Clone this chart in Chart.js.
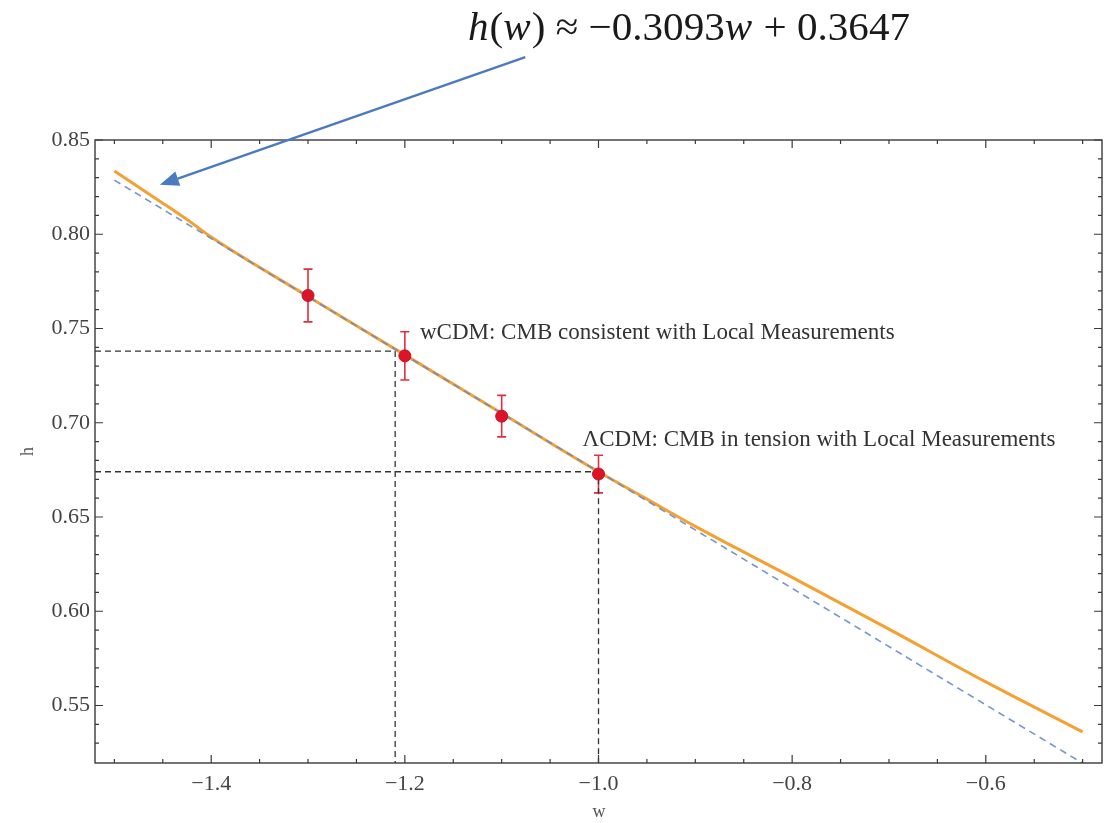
<!DOCTYPE html>
<html>
<head>
<meta charset="utf-8">
<script src="https://cdn.jsdelivr.net/npm/chart.js@4.4.1/dist/chart.umd.min.js"></script>
<style>
  html, body { margin: 0; padding: 0; background: #ffffff; }
  #wrap { width: 1114px; height: 823px; position: relative; }
</style>
</head>
<body>
<div id="wrap"><canvas id="c" width="1114" height="823"></canvas></div>
<script>
// ---------------- data ----------------
// Orange curve h(w)
const orangeW = [-1.50, -1.45, -1.42, -1.40, -1.30, -1.20, -1.10, -1.00, -0.95, -0.90, -0.80, -0.70, -0.60, -0.50];
const orangeH = [0.8335, 0.8165, 0.8060, 0.7985, 0.7670, 0.7360, 0.7050, 0.6740, 0.6595, 0.6450, 0.6180, 0.5905, 0.5625, 0.5360];
// Blue dashed linear fit h(w) ~ -0.3093 w + 0.3647 (end points)
const fitW = [-1.50, -0.50];
const fitH = [0.8287, 0.5194];
// Measurements with error bars
const ptW = [-1.30, -1.20, -1.10, -1.00];
const ptH = [0.7675, 0.7355, 0.7035, 0.6728];
const ptErr = [0.0140, 0.0128, 0.0110, 0.0100];
// Guide (crossing) points
const guideW = [-1.21, -1.00];
const guideH = [0.738, 0.674];
// Tick labels
const xTickValues = [-1.4, -1.2, -1.0, -0.8, -0.6];
const xTickLabels = ['\u22121.4', '\u22121.2', '\u22121.0', '\u22120.8', '\u22120.6'];
const yTickValues = [0.55, 0.60, 0.65, 0.70, 0.75, 0.80, 0.85];
const yTickLabels = ['0.55', '0.60', '0.65', '0.70', '0.75', '0.80', '0.85'];
// Annotations
const noteW = 'wCDM: CMB consistent with Local Measurements';
const noteL = '\u039BCDM: CMB in tension with Local Measurements';
const xTitle = 'w';
const yTitle = 'h';
const formulaParts = [
  ['h', true], ['(', false], ['w', true], [') \u2248 \u22120.3093', false], ['w', true], [' + 0.3647', false]
];

const X_MIN = -1.52, X_MAX = -0.48, Y_MIN = 0.5195, Y_MAX = 0.85;

const zip = (a, b) => a.map((v, i) => ({ x: v, y: b[i] }));

const SERIF = '"Liberation Serif", "Times New Roman", serif';

const decor = {
  id: 'decor',
  beforeDatasetsDraw(chart) {
    const { ctx } = chart;
    const xs = chart.scales.x, ys = chart.scales.y;
    // error bars (under points)
    ctx.save();
    ctx.strokeStyle = '#e0303c';
    ctx.lineWidth = 1.6;
    ptW.forEach((w, i) => {
      const px = xs.getPixelForValue(w);
      const top = ys.getPixelForValue(ptH[i] + ptErr[i]);
      const bot = ys.getPixelForValue(ptH[i] - ptErr[i]);
      ctx.beginPath();
      ctx.moveTo(px, top); ctx.lineTo(px, bot);
      ctx.moveTo(px - 4.5, top); ctx.lineTo(px + 4.5, top);
      ctx.moveTo(px - 4.5, bot); ctx.lineTo(px + 4.5, bot);
      ctx.stroke();
    });
    ctx.restore();
  },
  afterDatasetsDraw(chart) {
    const { ctx, chartArea: a } = chart;
    const xs = chart.scales.x, ys = chart.scales.y;
    ctx.save();
    // frame
    ctx.strokeStyle = '#3a3a3a';
    ctx.lineWidth = 1.4;
    ctx.strokeRect(a.left, a.top, a.right - a.left, a.bottom - a.top);
    // ticks, inward
    ctx.lineWidth = 1.2;
    ctx.beginPath();
    for (let k = -30; k <= -10; k++) {
      const v = k * 0.05;
      const px = xs.getPixelForValue(v);
      if (px < a.left + 1 || px > a.right - 1) continue;
      const major = xTickValues.some(t => Math.abs(t - v) < 1e-6);
      const L = major ? 8 : 4;
      ctx.moveTo(px, a.bottom); ctx.lineTo(px, a.bottom - L);
      ctx.moveTo(px, a.top); ctx.lineTo(px, a.top + L);
    }
    for (let k = 52; k <= 85; k++) {
      const v = k * 0.01;
      const py = ys.getPixelForValue(v);
      if (py < a.top - 0.5 || py > a.bottom - 1) continue;
      const major = yTickValues.some(t => Math.abs(t - v) < 1e-6);
      const L = major ? 8 : 4;
      ctx.moveTo(a.left, py); ctx.lineTo(a.left + L, py);
      ctx.moveTo(a.right, py); ctx.lineTo(a.right - L, py);
    }
    ctx.stroke();

    // annotations
    ctx.fillStyle = '#333';
    ctx.font = '23px ' + SERIF;
    ctx.textAlign = 'left';
    ctx.textBaseline = 'alphabetic';
    ctx.fillText(noteW, xs.getPixelForValue(-1.1844), ys.getPixelForValue(0.7445));
    ctx.fillText(noteL, xs.getPixelForValue(-1.0165), ys.getPixelForValue(0.6877));

    // axis titles
    ctx.fillStyle = '#555';
    ctx.font = '18px ' + SERIF;
    ctx.textAlign = 'center';
    ctx.textBaseline = 'middle';
    ctx.fillText(xTitle, (a.left + a.right) / 2 + 0.5, 812);
    ctx.save();
    ctx.translate(28, (a.top + a.bottom) / 2);
    ctx.rotate(-Math.PI / 2);
    ctx.fillText(yTitle, 0, 0);
    ctx.restore();

    // formula (stretched to reference width)
    ctx.fillStyle = '#1a1a1a';
    ctx.textAlign = 'left';
    ctx.textBaseline = 'alphabetic';
    const fsize = 40;
    let total = 0;
    formulaParts.forEach(([t, it]) => {
      ctx.font = (it ? 'italic ' : '') + fsize + 'px ' + SERIF;
      total += ctx.measureText(t).width + (it ? 1 : 0);
    });
    const sx = 442 / total;
    ctx.save();
    ctx.translate(468, 40);
    ctx.scale(sx, 1);
    let fx = 0;
    formulaParts.forEach(([t, it]) => {
      ctx.font = (it ? 'italic ' : '') + fsize + 'px ' + SERIF;
      ctx.fillText(t, fx, 0);
      fx += ctx.measureText(t).width + (it ? 1 : 0);
    });
    ctx.restore();

    // arrow
    const x0 = xs.getPixelForValue(-1.0756), y0 = ys.getPixelForValue(0.894);
    const x1 = xs.getPixelForValue(-1.4530), y1 = ys.getPixelForValue(0.8262);
    const ang = Math.atan2(y1 - y0, x1 - x0);
    const hl = 19, hw = 7.5;
    const bx = x1 - hl * Math.cos(ang), by = y1 - hl * Math.sin(ang);
    ctx.strokeStyle = '#4a7bc0';
    ctx.fillStyle = '#4a7bc0';
    ctx.lineWidth = 2.5;
    ctx.beginPath();
    ctx.moveTo(x0, y0); ctx.lineTo(bx, by);
    ctx.stroke();
    ctx.beginPath();
    ctx.moveTo(x1, y1);
    ctx.lineTo(bx + hw * Math.sin(ang), by - hw * Math.cos(ang));
    ctx.lineTo(bx - hw * Math.sin(ang), by + hw * Math.cos(ang));
    ctx.closePath();
    ctx.fill();
    ctx.restore();
  }
};

const guideA = [
  { x: X_MIN, y: guideH[0] }, { x: guideW[0], y: guideH[0] }, { x: guideW[0], y: Y_MIN }
];
const guideB = [
  { x: X_MIN, y: guideH[1] }, { x: guideW[1], y: guideH[1] }, { x: guideW[1], y: Y_MIN }
];

new Chart(document.getElementById('c'), {
  type: 'scatter',
  data: {
    datasets: [
      { label: 'data', data: zip(ptW, ptH), showLine: false, pointRadius: 6, pointHoverRadius: 6,
        backgroundColor: '#dc1428', borderColor: '#c8102a', borderWidth: 1 },
      { label: 'fit', data: zip(fitW, fitH), showLine: true, pointRadius: 0, borderColor: 'rgba(100,140,200,0.9)',
        borderWidth: 1.6, borderDash: [7, 5], fill: false },
      { label: 'h(w)', data: zip(orangeW, orangeH), showLine: true, pointRadius: 0, borderColor: '#f5a033',
        borderWidth: 3, tension: 0.2, cubicInterpolationMode: 'monotone', fill: false },
      { label: 'gA', data: guideA, showLine: true, pointRadius: 0, borderColor: '#333', borderWidth: 1.3,
        borderDash: [6, 4], fill: false },
      { label: 'gB', data: guideB, showLine: true, pointRadius: 0, borderColor: '#333', borderWidth: 1.3,
        borderDash: [6, 4], fill: false }
    ]
  },
  options: {
    responsive: false,
    animation: false,
    events: [],
    layout: { padding: { top: 140, right: 12, left: 0, bottom: 0 } },
    plugins: { legend: { display: false }, tooltip: { enabled: false } },
    scales: {
      x: {
        type: 'linear', min: X_MIN, max: X_MAX,
        grid: { display: false, drawTicks: false },
        border: { display: false },
        afterBuildTicks: s => { s.ticks = xTickValues.map(v => ({ value: v })); },
        afterFit: s => { s.height = 60; },
        ticks: {
          padding: 8,
          color: '#444',
          font: { family: SERIF, size: 22 },
          maxRotation: 0,
          callback: (v) => { const i = xTickValues.findIndex(t => Math.abs(t - v) < 1e-6); return i >= 0 ? xTickLabels[i] : ''; }
        }
      },
      y: {
        type: 'linear', min: Y_MIN, max: Y_MAX,
        grid: { display: false, drawTicks: false },
        border: { display: false },
        afterBuildTicks: s => { s.ticks = yTickValues.map(v => ({ value: v })); },
        afterFit: s => { s.width = 95; },
        ticks: {
          padding: 5,
          color: '#444',
          font: { family: SERIF, size: 22 },
          callback: (v) => { const i = yTickValues.findIndex(t => Math.abs(t - v) < 1e-6); return i >= 0 ? yTickLabels[i] : ''; }
        }
      }
    }
  },
  plugins: [decor]
});
</script>
</body>
</html>
